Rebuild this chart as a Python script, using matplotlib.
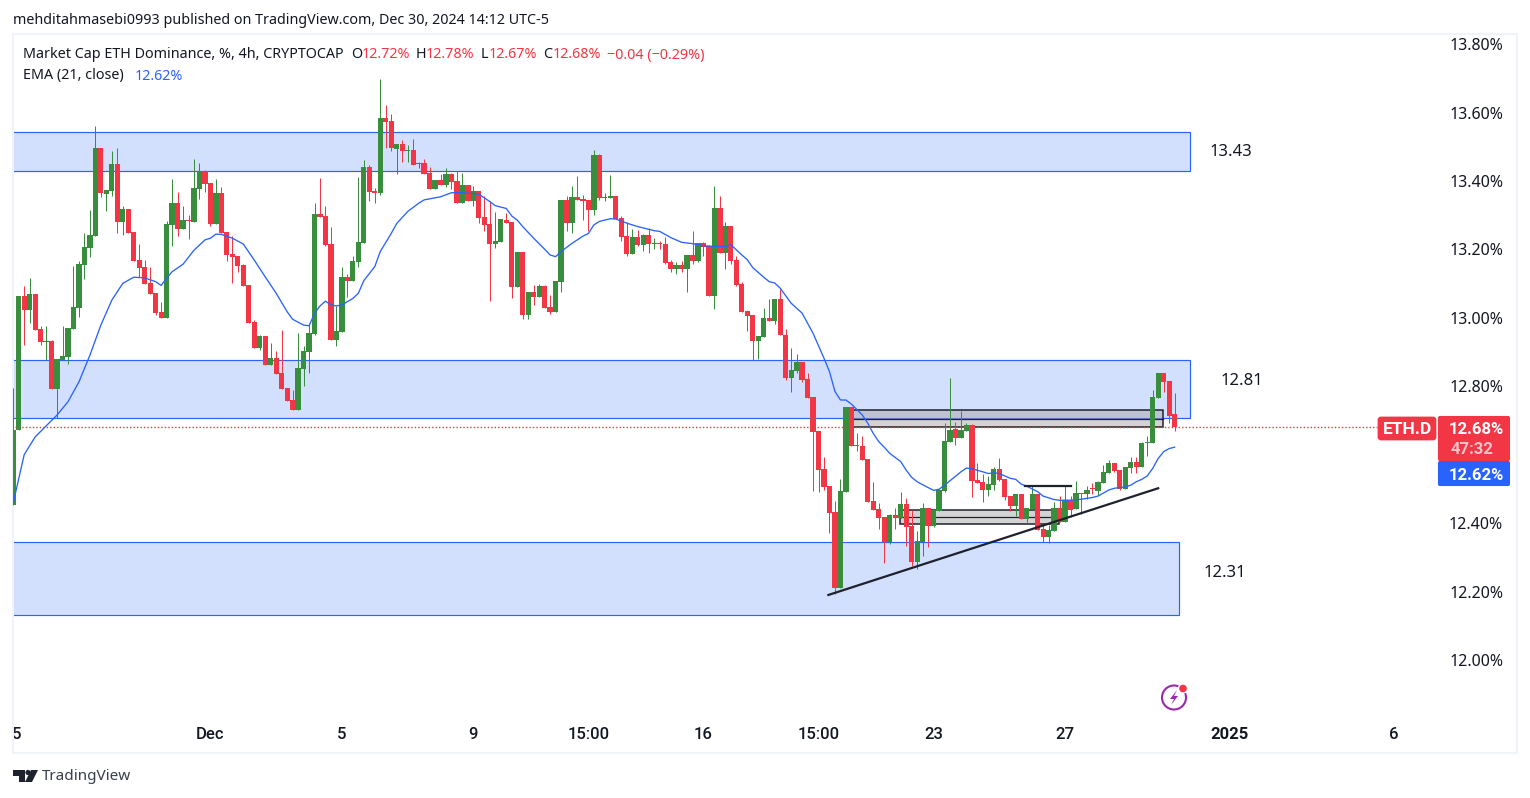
import matplotlib
matplotlib.use("Agg")
import matplotlib.pyplot as plt
from matplotlib.patches import Rectangle, FancyBboxPatch, Circle, Polygon

# 4h candles
opens = [12.453, 12.672, 13.064, 13.023, 13.070, 12.967, 12.929, 12.932, 12.792, 12.877,
         12.886, 12.967, 13.029, 13.155, 13.204, 13.240, 13.497, 13.362, 13.371, 13.450,
         13.280, 13.318, 13.251, 13.169, 13.149, 13.102, 13.073, 13.017, 12.999, 13.272,
         13.336, 13.260, 13.286, 13.280, 13.377, 13.430, 13.394, 13.275, 13.365, 13.251,
         13.187, 13.181, 13.155, 13.096, 12.988, 12.912, 12.947, 12.862, 12.883, 12.839,
         12.795, 12.760, 12.730, 12.850, 12.900, 12.953, 13.304, 13.298, 13.216, 12.935,
         12.959, 13.120, 13.108, 13.163, 13.219, 13.441, 13.371, 13.365, 13.585, 13.576,
         13.494, 13.509, 13.488, 13.491, 13.450, 13.453, 13.424, 13.377, 13.403, 13.389,
         13.421, 13.400, 13.336, 13.389, 13.342, 13.371, 13.295, 13.275, 13.216, 13.222,
         13.286, 13.280, 13.090, 13.193, 13.008, 13.076, 13.061, 13.093, 13.032, 13.017,
         13.105, 13.345, 13.277, 13.354, 13.348, 13.345, 13.316, 13.477, 13.351, 13.351,
         13.357, 13.293, 13.240, 13.187, 13.237, 13.214, 13.243, 13.217, 13.219, 13.217,
         13.164, 13.143, 13.155, 13.143, 13.184, 13.167, 13.219, 13.211, 13.064, 13.322,
         13.190, 13.269, 13.170, 13.100, 13.021, 13.009, 12.933, 12.945, 13.000, 12.991,
         13.056, 12.950, 12.825, 12.845, 12.871, 12.822, 12.769, 12.669, 12.558, 12.508,
         12.432, 12.210, 12.491, 12.740, 12.628, 12.625, 12.587, 12.465, 12.441, 12.418,
         12.345, 12.424, 12.415, 12.456, 12.391, 12.286, 12.345, 12.444, 12.391, 12.435,
         12.494, 12.637, 12.675, 12.649, 12.669, 12.687, 12.526, 12.520, 12.497, 12.511,
         12.558, 12.529, 12.479, 12.450, 12.485, 12.412, 12.441, 12.485, 12.383, 12.359,
         12.377, 12.444, 12.403, 12.467, 12.441, 12.488, 12.485, 12.503, 12.494, 12.517,
         12.546, 12.576, 12.555, 12.500, 12.561, 12.579, 12.564, 12.634, 12.634, 12.766,
         12.839, 12.816, 12.72]
highs = [12.795, 13.064, 13.093, 13.117, 13.070, 12.976, 12.976, 12.935, 12.880, 12.976,
         12.970, 13.152, 13.166, 13.247, 13.316, 13.561, 13.497, 13.374, 13.488, 13.497,
         13.327, 13.318, 13.251, 13.216, 13.169, 13.149, 13.073, 13.046, 13.283, 13.406,
         13.368, 13.327, 13.301, 13.465, 13.453, 13.433, 13.394, 13.406, 13.383, 13.251,
         13.239, 13.181, 13.158, 13.096, 12.994, 12.950, 12.947, 12.926, 12.903, 12.965,
         12.795, 12.789, 12.955, 12.918, 12.979, 13.336, 13.409, 13.327, 13.266, 13.035,
         13.149, 13.128, 13.181, 13.412, 13.462, 13.447, 13.380, 13.699, 13.623, 13.596,
         13.509, 13.520, 13.506, 13.523, 13.456, 13.465, 13.441, 13.403, 13.421, 13.438,
         13.424, 13.430, 13.424, 13.389, 13.386, 13.371, 13.356, 13.342, 13.310, 13.289,
         13.307, 13.280, 13.193, 13.193, 13.076, 13.096, 13.099, 13.096, 13.067, 13.108,
         13.345, 13.356, 13.386, 13.415, 13.359, 13.345, 13.491, 13.480, 13.366, 13.418,
         13.357, 13.298, 13.281, 13.260, 13.258, 13.246, 13.263, 13.234, 13.225, 13.237,
         13.170, 13.164, 13.167, 13.184, 13.255, 13.219, 13.222, 13.214, 13.386, 13.357,
         13.281, 13.269, 13.181, 13.105, 13.021, 13.009, 12.947, 13.029, 13.056, 13.056,
         13.085, 12.968, 12.912, 12.895, 12.871, 12.839, 12.769, 12.669, 12.593, 12.508,
         12.465, 12.529, 12.740, 12.740, 12.663, 12.655, 12.587, 12.520, 12.459, 12.418,
         12.427, 12.444, 12.491, 12.473, 12.438, 12.377, 12.459, 12.444, 12.438, 12.500,
         12.693, 12.824, 12.696, 12.728, 12.693, 12.690, 12.576, 12.544, 12.538, 12.564,
         12.590, 12.529, 12.479, 12.485, 12.485, 12.444, 12.511, 12.485, 12.394, 12.394,
         12.462, 12.479, 12.508, 12.479, 12.523, 12.488, 12.508, 12.517, 12.523, 12.570,
         12.585, 12.576, 12.555, 12.564, 12.593, 12.593, 12.637, 12.655, 12.789, 12.839,
         12.839, 12.816, 12.78]
lows = [12.453, 12.672, 12.921, 12.986, 12.965, 12.921, 12.877, 12.792, 12.706, 12.877,
        12.865, 12.967, 13.002, 13.114, 13.178, 13.240, 13.354, 13.313, 13.356, 13.248,
        13.242, 13.248, 13.166, 13.120, 13.099, 13.070, 13.008, 12.999, 12.999, 13.210,
        13.239, 13.260, 13.231, 13.280, 13.348, 13.368, 13.269, 13.275, 13.248, 13.166,
        13.102, 13.134, 13.093, 12.985, 12.912, 12.906, 12.862, 12.862, 12.836, 12.792,
        12.757, 12.730, 12.730, 12.801, 12.840, 12.950, 13.295, 13.210, 12.935, 12.918,
        12.959, 13.061, 13.108, 13.149, 13.219, 13.342, 13.336, 13.359, 13.497, 13.488,
        13.421, 13.456, 13.456, 13.447, 13.438, 13.421, 13.377, 13.377, 13.389, 13.383,
        13.377, 13.336, 13.336, 13.342, 13.327, 13.277, 13.254, 13.049, 13.204, 13.222,
        13.277, 13.058, 13.090, 12.997, 12.997, 13.038, 13.061, 13.029, 13.011, 13.017,
        13.076, 13.254, 13.248, 13.345, 13.286, 13.254, 13.301, 13.345, 13.342, 13.351,
        13.290, 13.225, 13.181, 13.187, 13.211, 13.196, 13.190, 13.202, 13.202, 13.158,
        13.135, 13.129, 13.135, 13.076, 13.158, 13.164, 13.181, 13.064, 13.026, 13.190,
        13.143, 13.158, 13.094, 13.018, 12.962, 12.877, 12.880, 12.945, 12.991, 12.983,
        12.950, 12.819, 12.784, 12.839, 12.813, 12.766, 12.494, 12.491, 12.497, 12.371,
        12.193, 12.210, 12.491, 12.625, 12.611, 12.585, 12.462, 12.438, 12.383, 12.283,
        12.339, 12.383, 12.415, 12.333, 12.274, 12.266, 12.304, 12.330, 12.389, 12.435,
        12.491, 12.637, 12.628, 12.649, 12.669, 12.476, 12.517, 12.462, 12.479, 12.497,
        12.523, 12.467, 12.435, 12.421, 12.412, 12.403, 12.441, 12.380, 12.345, 12.342,
        12.377, 12.403, 12.403, 12.418, 12.441, 12.427, 12.470, 12.485, 12.482, 12.517,
        12.546, 12.549, 12.497, 12.500, 12.546, 12.546, 12.564, 12.596, 12.634, 12.766,
        12.783, 12.693, 12.67]
closes = [12.673, 13.064, 13.023, 13.070, 12.965, 12.929, 12.932, 12.792, 12.880, 12.888,
          12.970, 13.032, 13.158, 13.207, 13.242, 13.497, 13.365, 13.374, 13.450, 13.280,
          13.318, 13.248, 13.166, 13.146, 13.099, 13.070, 13.014, 12.999, 13.275, 13.336,
          13.260, 13.286, 13.283, 13.380, 13.430, 13.392, 13.275, 13.365, 13.248, 13.184,
          13.178, 13.152, 13.093, 12.985, 12.912, 12.947, 12.862, 12.883, 12.836, 12.792,
          12.757, 12.730, 12.853, 12.903, 12.956, 13.304, 13.295, 13.213, 12.935, 12.962,
          13.120, 13.108, 13.166, 13.222, 13.441, 13.368, 13.365, 13.585, 13.573, 13.497,
          13.509, 13.488, 13.491, 13.447, 13.453, 13.421, 13.377, 13.403, 13.389, 13.421,
          13.397, 13.336, 13.389, 13.342, 13.371, 13.292, 13.272, 13.216, 13.225, 13.289,
          13.277, 13.090, 13.193, 13.008, 13.076, 13.061, 13.093, 13.029, 13.017, 13.108,
          13.345, 13.277, 13.354, 13.345, 13.342, 13.316, 13.477, 13.351, 13.354, 13.357,
          13.290, 13.237, 13.187, 13.237, 13.214, 13.243, 13.217, 13.219, 13.217, 13.161,
          13.143, 13.155, 13.143, 13.184, 13.167, 13.219, 13.208, 13.064, 13.322, 13.190,
          13.269, 13.167, 13.097, 13.018, 13.006, 12.933, 12.947, 13.000, 12.991, 13.056,
          12.950, 12.825, 12.848, 12.871, 12.819, 12.766, 12.666, 12.555, 12.506, 12.429,
          12.210, 12.494, 12.740, 12.625, 12.625, 12.585, 12.462, 12.438, 12.415, 12.345,
          12.424, 12.415, 12.456, 12.389, 12.286, 12.348, 12.444, 12.391, 12.438, 12.497,
          12.640, 12.672, 12.649, 12.672, 12.687, 12.523, 12.517, 12.497, 12.514, 12.558,
          12.526, 12.476, 12.450, 12.485, 12.412, 12.444, 12.485, 12.380, 12.359, 12.380,
          12.444, 12.403, 12.467, 12.438, 12.488, 12.485, 12.497, 12.500, 12.520, 12.549,
          12.576, 12.552, 12.500, 12.564, 12.579, 12.564, 12.634, 12.637, 12.769, 12.839,
          12.813, 12.713, 12.68]

# EMA 21, read at the bends of the line
ema_x = [0, 2, 4, 6, 8, 10, 12, 14, 16, 18, 20, 22, 24, 26, 27, 28, 29, 31, 33, 35, 36, 37, 38, 40, 42, 44,
         46, 48, 50, 51, 53, 54, 55, 56, 57, 58, 59, 60, 62, 63, 64, 66, 67, 69, 70, 72, 74, 75, 78, 80, 82,
         85, 87, 88, 90, 91, 92, 93, 95, 97, 98, 99, 100, 102, 104, 105, 106, 107, 109, 110, 112, 114, 117,
         118, 120, 122, 124, 126, 128, 130, 131, 133, 134, 135, 137, 138, 139, 140, 142, 144, 146, 148, 149,
         150, 151, 152, 153, 155, 156, 157, 158, 159, 160, 162, 163, 164, 165, 167, 168, 169, 170, 171, 173,
         174, 175, 177, 178, 179, 180, 182, 183, 184, 185, 187, 188, 190, 191, 193, 195, 197, 198, 200, 201,
         203, 204, 205, 206, 207, 208, 209, 210, 211, 212]
ema_y = [12.459, 12.60, 12.652, 12.684, 12.716, 12.755, 12.813, 12.891, 12.979, 13.052, 13.101, 13.119,
         13.117, 13.106, 13.095, 13.116, 13.135, 13.157, 13.198, 13.228, 13.233, 13.245, 13.244, 13.233,
         13.216, 13.169, 13.120, 13.072, 13.018, 12.996, 12.979, 12.977, 13.013, 13.035, 13.049, 13.038,
         13.035, 13.038, 13.057, 13.072, 13.109, 13.150, 13.194, 13.247, 13.276, 13.311, 13.335, 13.345,
         13.354, 13.366, 13.366, 13.362, 13.340, 13.328, 13.320, 13.298, 13.286, 13.267, 13.233, 13.201,
         13.184, 13.179, 13.194, 13.218, 13.239, 13.247, 13.272, 13.282, 13.290, 13.289, 13.277, 13.267,
         13.255, 13.253, 13.235, 13.221, 13.217, 13.211, 13.209, 13.209, 13.214, 13.184, 13.170, 13.147,
         13.119, 13.106, 13.102, 13.087, 13.043, 13.014, 12.955, 12.882, 12.843, 12.785, 12.760, 12.760,
         12.748, 12.716, 12.692, 12.662, 12.638, 12.622, 12.604, 12.580, 12.555, 12.534, 12.521, 12.504,
         12.496, 12.499, 12.511, 12.524, 12.550, 12.561, 12.559, 12.550, 12.545, 12.547, 12.545, 12.531,
         12.528, 12.514, 12.508, 12.492, 12.479, 12.469, 12.467, 12.467, 12.470, 12.475, 12.479, 12.497,
         12.502, 12.506, 12.511, 12.521, 12.528, 12.538, 12.560, 12.589, 12.609, 12.618, 12.622]

# support / resistance zones
zone_tops = [13.544, 12.877, 12.345]
zone_bottoms = [13.430, 12.708, 12.132]
zone_ends = [214.85, 214.85, 212.8]
zone_labels = ["13.43", "12.81", "12.31"]
zone_label_x = [218.4, 220.4, 217.3]
zone_label_y = [13.484, 12.817, 12.254]

price_ticks = [13.8, 13.6, 13.4, 13.2, 13.0, 12.8, 12.4, 12.2, 12.0]
time_ticks = [0.7, 36, 60, 84, 105, 126, 147, 168, 192, 222, 252]
time_labels = ["5", "Dec", "5", "9", "15:00", "16", "15:00", "23", "27", "2025", "6"]

GREEN = "#388E3C"
RED = "#F23645"
BLUE = "#2962FF"
ZONE = "#D2DFFD"
FRAME = "#F0F3FA"
TEXT = "#131722"
DARK = "#1E222D"
FONT = "Noto Sans"
BOLD_FONT = "Roboto"

plt.rcParams["font.family"] = FONT

W, H = 1530, 798
fig = plt.figure(figsize=(W / 100, H / 100), dpi=100, facecolor="white")

# main axes: frame runs x 13..1517, y 34..753 in pixels
ax = fig.add_axes([13 / W, 1 - 753 / H, (1517 - 13) / W, (753 - 34) / H])
ax.set_xlim(-0.04, 274.5)
ax.set_ylim(11.728, 13.83)
for s in ax.spines.values():
    s.set_color(FRAME)
    s.set_linewidth(1.5)

ax.yaxis.tick_right()
ax.set_yticks(price_ticks)
ax.set_yticklabels(["%.2f%%" % p for p in price_ticks], ha="right", va="center_baseline", fontsize=11.5, color=TEXT)
ax.tick_params(axis="y", length=0, pad=-10)
ax.set_xticks(time_ticks)
ax.set_xticklabels(time_labels, fontsize=12, color=TEXT, va="center", family=BOLD_FONT, fontweight="medium")
ax.get_xticklabels()[9].set_fontweight("bold")
ax.tick_params(axis="x", length=0, pad=-13)

# zones
for top, bottom, end in zip(zone_tops, zone_bottoms, zone_ends):
    ax.add_patch(Rectangle((-1, bottom), end + 1, top - bottom, facecolor=ZONE, edgecolor=BLUE, linewidth=0.85, zorder=1))
for lab, lx, ly in zip(zone_labels, zone_label_x, zone_label_y):
    ax.text(lx, ly, lab, fontsize=12, color=TEXT, va="center", ha="left")

# grey boxes, each split in two
ax.add_patch(Rectangle((152.9, 12.680), 57, 0.051, facecolor="#A9A9A9", alpha=0.5, edgecolor="none", zorder=2))
ax.add_patch(Rectangle((152.9, 12.680), 57, 0.051, facecolor="none", edgecolor=DARK, linewidth=1.1, zorder=2))
ax.plot([152.9, 209.9], [12.705, 12.705], color=DARK, lw=0.9, zorder=2)
ax.add_patch(Rectangle((161.9, 12.398), 29, 0.041, facecolor="#A9A9A9", alpha=0.5, edgecolor="none", zorder=2))
ax.add_patch(Rectangle((161.9, 12.398), 29, 0.041, facecolor="none", edgecolor=DARK, linewidth=1.1, zorder=2))
ax.plot([161.9, 190.9], [12.418, 12.418], color=DARK, lw=0.9, zorder=2)

# candles
x = list(range(len(opens)))
cols = [GREEN if c >= o else RED for o, c in zip(opens, closes)]
wicks = ax.vlines(x, lows, highs, colors=cols, linewidth=0.72, zorder=3)
wicks.set_snap(True)
bottoms = [min(o, c) for o, c in zip(opens, closes)]
heights = [max(abs(c - o), 0.003) for o, c in zip(opens, closes)]
ax.bar(x, heights, bottom=bottoms, width=0.95, color=cols, linewidth=0, zorder=3)

ax.plot(ema_x, ema_y, color=BLUE, lw=0.95, zorder=4)

# trend line and small horizontal
ax.plot([148.8, 209], [12.19, 12.502], color=DARK, lw=1.6, zorder=5)
ax.plot([184.7, 193], [12.509, 12.509], color=DARK, lw=1.6, zorder=5)

# last price line up to the ETH.D tag
ax.hlines(closes[-1], -1, (1377 - 13.2) / 5.478, color=RED, linewidth=1.0, linestyles=(0, (1, 1.5)), zorder=4)

# overlay in pixel coordinates for header, tags, logos
ov = fig.add_axes([0, 0, 1, 1], facecolor="none")
ov.set_xlim(0, W)
ov.set_ylim(H, 0)
ov.axis("off")


def put(px, py, s, col=TEXT, size=10.3, **kw):
    ov.text(px, py, s, color=col, fontsize=size, va="center", ha=kw.pop("ha", "left"), **kw)


put(13, 20, "mehditahmasebi0993 published on TradingView.com, Dec 30, 2024 14:12 UTC-5")
put(23, 55, "Market Cap ETH Dominance, %, 4h, CRYPTOCAP")
put(351, 55, "O")
put(362, 55, "12.72%", RED)
put(415.5, 55, "H")
put(426, 55, "12.78%", RED)
put(481, 55, "L")
put(489, 55, "12.67%", RED)
put(543, 55, "C")
put(553, 55, "12.68%", RED)
put(607.5, 55, "\u22120.04 (\u22120.29%)", RED)
put(23, 76, "EMA (21, close)")
put(135, 76, "12.62%", BLUE)

# price tags
ov.add_patch(FancyBboxPatch((1379, 418), 56, 21, boxstyle="round,pad=0,rounding_size=2", mutation_aspect=1, facecolor=RED, edgecolor=RED, linewidth=2))
ov.add_patch(FancyBboxPatch((1439, 417), 70, 43, boxstyle="round,pad=0,rounding_size=1", facecolor=RED, edgecolor=RED, linewidth=1.5))
ov.add_patch(FancyBboxPatch((1439, 462), 70, 23, boxstyle="round,pad=0,rounding_size=1", facecolor=BLUE, edgecolor=BLUE, linewidth=1.5))
put(1407.5, 429, "ETH.D", "white", 12.5, ha="center", family=BOLD_FONT, fontweight="bold")
put(1504, 429, "12.68%", "white", 12, ha="right", family=BOLD_FONT, fontweight="bold")
put(1472, 450, "47:32", "#FBC5CA", 12, ha="center", family=BOLD_FONT, fontweight="bold")
put(1504, 475, "12.62%", "white", 12, ha="right", family=BOLD_FONT, fontweight="bold")

# publish icon
ov.add_patch(Circle((1174, 697.5), 12, facecolor="white", edgecolor="#9C27B0", linewidth=1.5))
ov.add_patch(Polygon([(1177, 690), (1170, 699), (1174, 699), (1171, 705), (1178, 696), (1174, 696)], facecolor="#9C27B0", edgecolor="none"))
ov.add_patch(Circle((1183, 688.5), 4.5, facecolor=RED, edgecolor="white", linewidth=1))

# TradingView logo
ov.add_patch(Polygon([(13, 770), (25, 770), (25, 782), (19, 782), (19, 776), (13, 776)], facecolor=DARK, edgecolor="none"))
ov.add_patch(Circle((28, 772.5), 2.6, facecolor=DARK, edgecolor="none"))
ov.add_patch(Polygon([(31, 770), (38, 770), (32, 782), (25, 782)], facecolor=DARK, edgecolor="none"))
put(42, 777, "TradingView", "#3A3E49", 11)

fig.savefig("out.png", dpi=100, facecolor="white")
